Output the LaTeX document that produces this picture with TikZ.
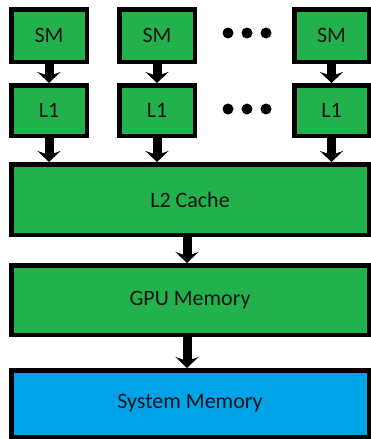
\documentclass[tikz,border=0pt]{standalone}
\usepackage{fontspec}
\setmainfont{Carlito}
\usetikzlibrary{arrows.meta}
\definecolor{boxgreen}{RGB}{34,177,76}
\definecolor{boxblue}{RGB}{0,162,232}
\definecolor{txt}{RGB}{20,20,20}
\tikzset{
  unit/.style={draw=black, line width=4.5pt, fill=boxgreen, inner sep=0pt,
    text=txt, font=\fontsize{22}{26}\selectfont},
  flow/.style={line width=9pt, -{Stealth[length=11pt, width=23pt, inset=4pt]}},
  dot/.style={circle, fill=black, inner sep=0pt, minimum size=11pt}
}
\begin{document}
\begin{tikzpicture}[x=1pt,y=-1pt]
\useasboundingbox (0,0) rectangle (371,439);
% SM row
\node[unit, minimum width=75.5pt, minimum height=52.5pt] (sm1) at (49,35.5) {SM};
\node[unit, minimum width=75.5pt, minimum height=52.5pt] (sm2) at (157,35.5) {SM};
\node[unit, minimum width=74.5pt, minimum height=52.5pt] (sm3) at (331.5,35.5) {SM};
% L1 row
\node[unit, minimum width=75.5pt, minimum height=50.5pt] (l11) at (49,110.5) {L1};
\node[unit, minimum width=75.5pt, minimum height=50.5pt] (l12) at (157,110.5) {L1};
\node[unit, minimum width=74.5pt, minimum height=50.5pt] (l13) at (331.5,110.5) {L1};
% dots
\node[dot] (d1) at (228,33) {};
\node[dot] (d2) at (247,33) {};
\node[dot] (d3) at (266,33) {};
\node[dot] (d4) at (228,109) {};
\node[dot] (d5) at (247,109) {};
\node[dot] (d6) at (266,109) {};
% big boxes
\node[unit, minimum width=357.5pt, minimum height=70.5pt] (l2) at (190,199.5) {L2 Cache};
\node[unit, minimum width=357.5pt, minimum height=69.5pt] (gpu) at (190,300) {GPU Memory};
\node[unit, fill=boxblue, minimum width=357.5pt, minimum height=66.5pt] (sys) at (190,403.5) {System Memory};
% arrows
\draw[flow] (sm1) -- (l11);
\draw[flow] (sm2) -- (l12);
\draw[flow] (sm3) -- (l13);
\draw[flow] (l11.south) -- (l11.south |- l2.north);
\draw[flow] (l12.south) -- (l12.south |- l2.north);
\draw[flow] (l13.south) -- (l13.south |- l2.north);
\draw[flow] ([xshift=-3pt]l2.south) -- ([xshift=-3pt]gpu.north);
\draw[flow] ([xshift=-3pt]gpu.south) -- ([xshift=-3pt]sys.north);
\end{tikzpicture}
\end{document}
